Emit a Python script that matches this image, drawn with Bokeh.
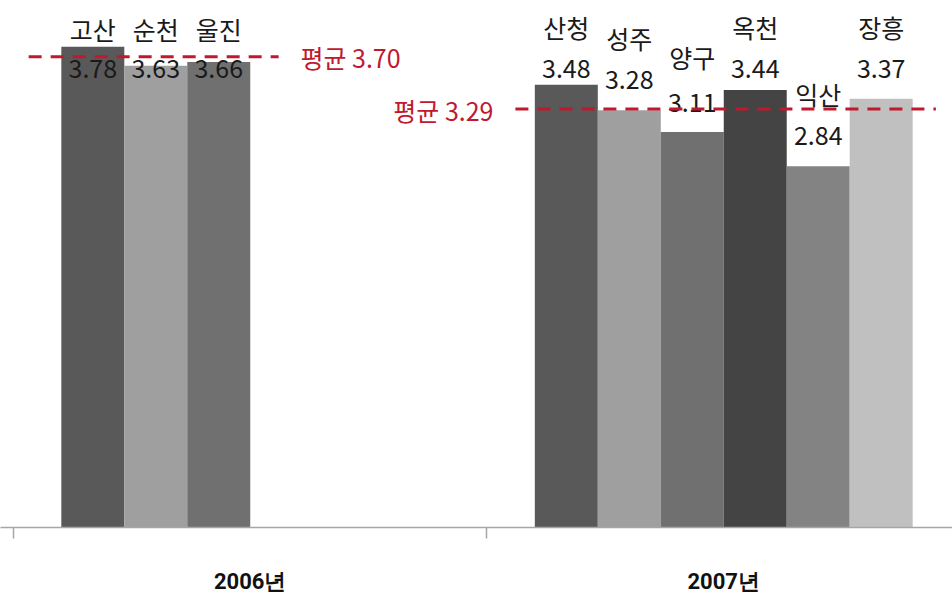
from bokeh.plotting import figure
from bokeh.models import ColumnDataSource, FixedTicker, Range1d
from bokeh.core.properties import value
from bokeh.embed import file_html
from bokeh.resources import INLINE

# ---------------- data ----------------
YEARS = ["2006년", "2007년"]
NAMES_2006 = ["고산", "순천", "울진"]
VALUES_2006 = [3.78, 3.63, 3.66]
NAMES_2007 = ["산청", "성주", "양구", "옥천", "익산", "장흥"]
VALUES_2007 = [3.48, 3.28, 3.11, 3.44, 2.84, 3.37]
AVERAGES = [3.70, 3.29]

# ---------------- styles ----------------
SLOT_COLORS = ["#595959", "#9f9f9f", "#707070", "#444444", "#838383", "#c0c0c0"]
N_SLOTS = 6
GAP = 0.101
BAR_W = (1 - 2 * GAP) / N_SLOTS
# pixel offsets of the labels relative to the bar tops (manually placed labels)
NAME_DY = [-18, -37, -33, -58, -72, -75, -63, -72, -72]
VALUE_DY = [22, 3, 7, -16, -31, -29, -21, -31, -30]
RED = "#c0182f"
FONT = "Noto Sans CJK KR"

groups = [(0, NAMES_2006, VALUES_2006), (1, NAMES_2007, VALUES_2007)]
xs, tops, cols, names, labels = [], [], [], [], []
for gi, nms, vals in groups:
    for k, (n, v) in enumerate(zip(nms, vals)):
        xs.append(gi + GAP + (k + 0.5) * BAR_W)
        tops.append(v)
        cols.append(SLOT_COLORS[k])
        names.append(n)
        labels.append(f"{v:.2f}")

src = ColumnDataSource(dict(x=xs, top=tops, color=cols, name=names, label=labels,
                            ndy=NAME_DY, vdy=VALUE_DY))

W, H = 952, 596
p = figure(width=W, height=H, output_backend="svg", toolbar_location=None,
           x_range=Range1d(-0.02745, 1.9831), y_range=Range1d(0, 4.143),
           min_border_left=0, min_border_right=0, min_border_top=0, min_border_bottom=69,
           y_axis_location=None)
p.outline_line_color = None
p.xgrid.visible = False
p.ygrid.visible = False
p.background_fill_color = "white"
p.border_fill_color = "white"

p.vbar(x="x", top="top", bottom=0, width=BAR_W, color="color", line_color=None, source=src)

p.text(x="x", y="top", text="name", y_offset="ndy", source=src,
       text_align="center", text_baseline="middle", text_font=value(FONT),
       text_font_size="25px", text_color="#1a1a1a")
p.text(x="x", y="top", text="label", y_offset="vdy", source=src,
       text_align="center", text_baseline="middle", text_font=value(FONT),
       text_font_size="25px", text_color="#1a1a1a")

# average lines
line_spans = [(0.032, 0.56), (1.06, 1.948)]
for (x0, x1), avg in zip(line_spans, AVERAGES):
    p.line([x0, x1], [avg, avg], line_color=RED, line_width=3, line_dash="13 9")
avg_src = ColumnDataSource(dict(x=[0.606, 1.0137], y=AVERAGES,
                                t=[f"평균 {a:.2f}" for a in AVERAGES],
                                align=["left", "right"], dy=[0, 1]))
p.text(x="x", y="y", text="t", text_align="align", y_offset="dy", source=avg_src,
       text_baseline="middle", text_font=value(FONT), text_font_size="25px",
       text_color=RED)

# category axis
ax = p.xaxis[0]
ax.ticker = FixedTicker(ticks=[0.5, 1.5], minor_ticks=[0, 1, 2])
ax.major_label_overrides = {0.5: YEARS[0], 1.5: YEARS[1]}
ax.major_tick_out = 0
ax.major_tick_in = 0
ax.minor_tick_out = 11
ax.minor_tick_in = 0
ax.minor_tick_line_color = "#a6a6a6"
ax.axis_line_color = "#a6a6a6"
ax.axis_line_width = 1.5
ax.minor_tick_line_width = 1.5
ax.major_label_standoff = 30
ax.major_label_text_font = "Roboto"
ax.major_label_text_font_size = "22px"
ax.major_label_text_font_style = "bold"
ax.major_label_text_color = "#111111"

open("out.html", "w").write(file_html(p, INLINE))
